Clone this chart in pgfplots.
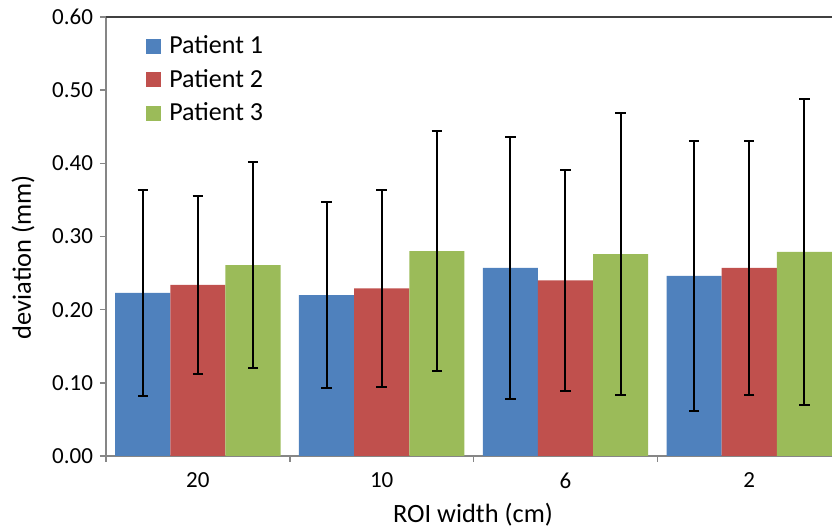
\documentclass[border=0pt]{standalone}
\usepackage{pgfplots}
\pgfplotsset{compat=1.18}
\usepackage{fontspec}
\setmainfont{Carlito}
\definecolor{c1}{HTML}{4F81BD}
\definecolor{c2}{HTML}{C0504D}
\definecolor{c3}{HTML}{9BBB59}
\definecolor{axgray}{HTML}{868686}
\begin{document}
\begin{tikzpicture}
\useasboundingbox (0,0) rectangle (416pt,264pt);
\begin{axis}[
  at={(53pt,36pt)}, anchor=south west,
  scale only axis, width=363pt, height=219.5pt,
  xmin=-0.5, xmax=3.45, ymin=0, ymax=0.6,
  axis x line*=bottom, axis y line*=left,
  axis line style={axgray, line width=0.8pt},
  tick align=outside,
  tick style={axgray, line width=0.8pt},
  major tick length=3pt,
  xtick={-0.5,0.5,1.5,2.5}, xticklabels={},
  extra x ticks={0,1,2,3}, extra x tick labels={20,10,6,2},
  extra x tick style={major tick length=0pt, tick label style={yshift=-5pt}},
  ytick={0,0.1,0.2,0.3,0.4,0.5,0.6},
  yticklabel style={/pgf/number format/.cd, fixed, fixed zerofill, precision=2},
  /pgf/number format/assume math mode=true,
  ticklabel style={font=\fontsize{11.5}{13}\selectfont},
  xlabel={ROI width (cm)}, ylabel={deviation (mm)},
  every axis x label/.style={at={(rel axis cs:0.5055,-0.134)}, anchor=center,
    font=\fontsize{13.2}{15}\selectfont},
  every axis y label/.style={at={(rel axis cs:-0.1143,0.453)}, anchor=center, rotate=90,
    font=\fontsize{13.2}{15}\selectfont},
  ybar, bar width=0.3,
  legend style={draw=none, fill=none, at={(0.055,0.967)}, anchor=north west,
    font=\fontsize{13}{15}\selectfont, row sep=2.2pt, inner sep=0pt,
    legend cell align=left},
  legend image code/.code={\fill[#1] (0pt,-3.75pt) rectangle (7.5pt,3.75pt);
    \path[draw=none, fill=none] (0pt,-3.75pt) rectangle (9.5pt,3.75pt);},
  error bars/error bar style={black, line width=1pt},
  error bars/error mark options={black, line width=1pt, mark size=2.6pt, rotate=90},
]
\addplot[fill=c1, draw=none, bar shift=-0.3,
  error bars/.cd, y dir=both, y explicit]
  coordinates {(0,0.223) +- (0,0.141) (1,0.220) +- (0,0.127) (2,0.257) +- (0,0.179) (3,0.246) +- (0,0.185)};
\addplot[fill=c2, draw=none, bar shift=0,
  error bars/.cd, y dir=both, y explicit]
  coordinates {(0,0.234) +- (0,0.122) (1,0.229) +- (0,0.135) (2,0.240) +- (0,0.151) (3,0.257) +- (0,0.174)};
\addplot[fill=c3, draw=none, bar shift=0.3,
  error bars/.cd, y dir=both, y explicit]
  coordinates {(0,0.261) +- (0,0.141) (1,0.280) +- (0,0.164) (2,0.276) +- (0,0.193) (3,0.279) +- (0,0.209)};
\legend{Patient 1, Patient 2, Patient 3}
\draw[black!75, line width=0.8pt] (rel axis cs:0,1) -- (rel axis cs:1,1);
\end{axis}
\end{tikzpicture}
\end{document}
